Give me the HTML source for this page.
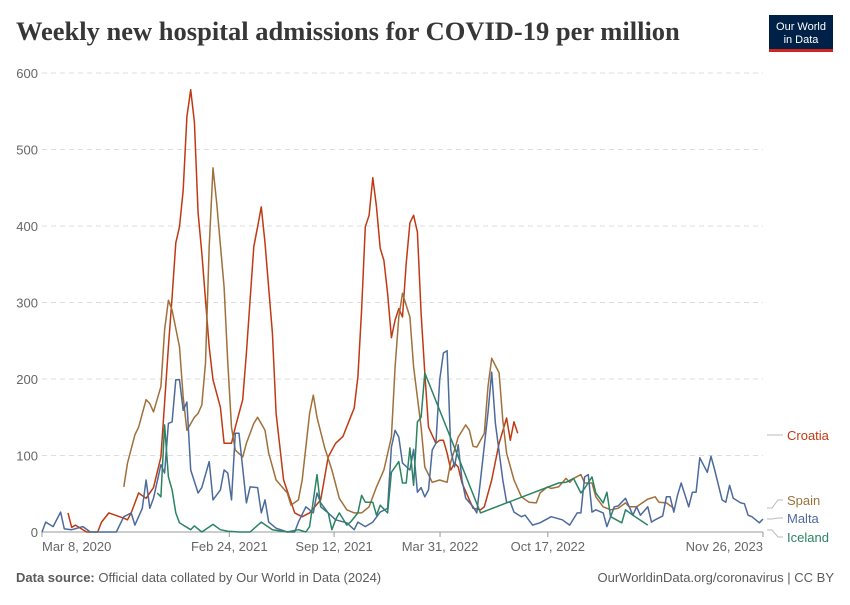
<!DOCTYPE html>
<html><head><meta charset="utf-8"><style>
body{margin:0;background:#fff;}
svg text{font-family:"Liberation Sans",sans-serif;}
</style></head><body>
<svg id="chart" width="850" height="600" xmlns="http://www.w3.org/2000/svg">
<text x="16" y="40" font-family="Liberation Serif" font-weight="bold" font-size="26.5" fill="#373737" style="font-family:'Liberation Serif',serif">Weekly new hospital admissions for COVID-19 per million</text>
<g>
<rect x="769" y="15" width="64" height="37" fill="#002147"/>
<rect x="769" y="49" width="64" height="3" fill="#ce261e"/>
<text x="801" y="30" font-size="11" fill="#fff" text-anchor="middle">Our World</text>
<text x="801" y="43" font-size="11" fill="#fff" text-anchor="middle">in Data</text>
</g>
<g id="grid"></g><g id="series"></g><g id="labels"></g>
<text x="16" y="582" font-size="13" fill="#5b5b5b"><tspan font-weight="bold">Data source:</tspan> Official data collated by Our World in Data (2024)</text>
<text x="834" y="582" font-size="13" fill="#5b5b5b" text-anchor="end">OurWorldinData.org/coronavirus | CC BY</text>
</svg>
<script>
const yTicks=[0,100,200,300,400,500,600];
const xTickWeeks=[0,50.4,78.6,107.1,136.1,194];
const xTickLabels=["Mar 8, 2020","Feb 24, 2021","Sep 12, 2021","Mar 31, 2022","Oct 17, 2022","Nov 26, 2023"];
const croatiaW=[7,8,9,12,15,16,18,22,23,24,26,28,30,32,34,35,36,37,38,39,40,41,42,43,45,46,48,49,51,52,54,55,57,58,59,60,62,63,65,68,70,72,75,77,79,81,83,84,85,86,87,88,89,90,91,92,93,94,95,96,97,98,99,100,101,102,103,104,106,107,108,109,110,111,112,113,115,116,118,119,121,123,125,126,127,128];
const croatiaV=[25,6,9,0,0,13,25,18,16,25,51,44,58,98,242,307,378,399,447,543,578,536,417,365,242,199,163,116,116,137,173,234,373,399,425,378,260,155,68,25,20,25,42,98,116,125,150,162,203,290,399,414,463,425,371,355,312,254,277,292,281,351,404,414,392,286,208,137,116,120,120,103,81,90,85,64,42,31,29,33,68,116,149,120,144,129];
const spainW=[22,23,25,26,28,29,30,32,33,34,35,37,38,39,41,42,43,44,45,46,47,49,50,51,52,54,55,57,58,60,61,63,66,67,69,70,72,73,74,76,78,80,82,84,86,88,90,92,94,95,96,97,99,100,102,103,105,107,109,110,111,112,114,115,116,117,119,120,121,123,124,125,127,129,131,133,134,136,137,139,141,142,143,145,146,148,149,151,153,155,157,158,160,163,165,166,168,170];
const spainV=[59,90,127,137,173,168,157,190,264,303,290,242,176,133,150,155,166,221,373,476,430,320,221,137,107,98,116,142,150,133,103,68,51,35,42,68,155,179,150,111,81,44,29,25,25,33,59,81,124,216,281,312,281,216,137,85,65,68,65,92,107,124,140,133,112,111,129,190,227,208,146,103,68,46,39,38,51,59,57,59,70,65,70,75,64,64,46,33,29,31,38,33,33,43,46,39,38,31];
const maltaW=[0,1,3,5,6,8,11,13,17,20,22,24,25,27,28,29,30,32,33,34,35,36,37,38,39,40,42,43,45,46,48,49,50,51,52,53,55,56,58,59,60,61,63,66,68,69,71,73,74,75,77,79,82,84,85,87,89,91,93,94,95,96,97,99,100,101,102,103,104,105,106,107,108,109,110,111,112,113,114,116,117,118,120,121,122,124,125,126,127,129,130,132,134,137,140,142,144,145,146,147,148,149,151,152,154,155,157,159,160,161,163,164,165,167,168,169,170,171,172,174,175,176,177,179,180,181,183,184,185,186,188,189,190,191,193,194];
const maltaV=[0,13,7,26,4,3,7,0,0,0,20,25,9,31,68,31,44,88,77,142,144,199,199,159,170,81,51,58,92,42,55,81,77,42,129,129,38,59,58,25,42,13,5,0,0,13,33,25,51,38,25,16,12,3,13,7,13,26,31,111,133,124,90,81,108,52,58,46,55,107,116,199,234,237,107,85,114,68,44,33,25,68,156,209,142,68,39,39,26,20,22,9,12,20,16,9,25,25,72,75,26,29,25,7,33,34,44,22,33,22,33,13,16,21,46,46,26,48,64,33,52,52,97,78,99,81,42,39,61,44,38,37,22,20,12,17];
const icelandW=[31,32,33,34,35,36,37,38,40,41,43,46,48,50,53,56,59,62,66,69,71,72,74,75,77,78,79,80,82,83,85,86,87,89,90,91,93,94,96,97,98,99,100,101,102,103,118,139,141,143,145,146,148,149,151,152,153,156,157,159,163];
const icelandV=[51,46,140,72,55,25,12,9,3,8,0,10,3,1,0,0,13,3,0,3,0,7,75,33,25,3,16,25,9,13,25,48,39,39,22,35,25,78,92,64,64,110,61,144,150,208,25,64,65,70,51,57,72,51,38,52,20,12,29,22,9];
const NS="http://www.w3.org/2000/svg";
const X0=42,X1=763,Y0=532,Y1=73,WMAX=194,VMAX=600;
const xs=w=>X0+w/WMAX*(X1-X0);
const ys=v=>Y0-v/VMAX*(Y0-Y1);
function mk(tag,attrs,parent){const e=document.createElementNS(NS,tag);for(const k in attrs)e.setAttribute(k,attrs[k]);parent.appendChild(e);return e;}
const grid=document.getElementById('grid');
yTicks.forEach(t=>{
 if(t>0){const l=mk('line',{x1:X0,x2:X1,y1:ys(t),y2:ys(t),stroke:'#dddddd','stroke-dasharray':'5,4'},grid);
 
 }
 const tx=mk('text',{x:38,y:ys(t)+5,'font-size':13,fill:'#666','text-anchor':'end'},grid);tx.textContent=t;
 
 
});
const ax=mk('line',{x1:X0,x2:X1,y1:Y0,y2:Y0,stroke:'#999'},grid);


xTickWeeks.forEach((w,i)=>{
 const tk=mk('line',{x1:xs(w),x2:xs(w),y1:Y0,y2:Y0+5,stroke:'#999'},grid);
 
 
 let anchor='middle',x=xs(w);
 if(i===0){anchor='start';x=X0;} if(i===xTickWeeks.length-1){anchor='end';x=X1;}
 const tx=mk('text',{x:x,y:551,'font-size':13,fill:'#666','text-anchor':anchor},grid);tx.textContent=xTickLabels[i];
 
 
});
const series=[["croatia",croatiaW,croatiaV,"#bf3a13"],["spain",spainW,spainV,"#a0703a"],["malta",maltaW,maltaV,"#4c6a9c"],["iceland",icelandW,icelandV,"#2a8462"]];
const sg=document.getElementById('series');
series.forEach(([n,W,V,c])=>{
 const d=W.map((w,i)=>(i?'L':'M')+xs(w).toFixed(1)+','+ys(V[i]).toFixed(1)).join('');
 const p=mk('path',{d:d,fill:'none',stroke:c,'stroke-width':1.5,'stroke-linejoin':'round'},sg);
 
 
});
const lg=document.getElementById('labels');
const legendNames=["Croatia","Spain","Malta","Iceland"];
const legendColors=["#bf3a13","#a0703a","#4c6a9c","#2a8462"];
const legendY=[435,500,518,537];
const anchorY=[435,508,519,530];
legendNames.forEach((n,i)=>{
 const pl=mk('polyline',{points:`767,${anchorY[i]} 772,${anchorY[i]} 772,${anchorY[i]} 778,${legendY[i]} 783,${legendY[i]}`,fill:'none',stroke:'#bbb'},lg);
 
 
 const t=mk('text',{x:787,y:legendY[i]+5,'font-size':13,fill:legendColors[i]},lg);t.textContent=n;
 
 
});
</script>
</body></html>
